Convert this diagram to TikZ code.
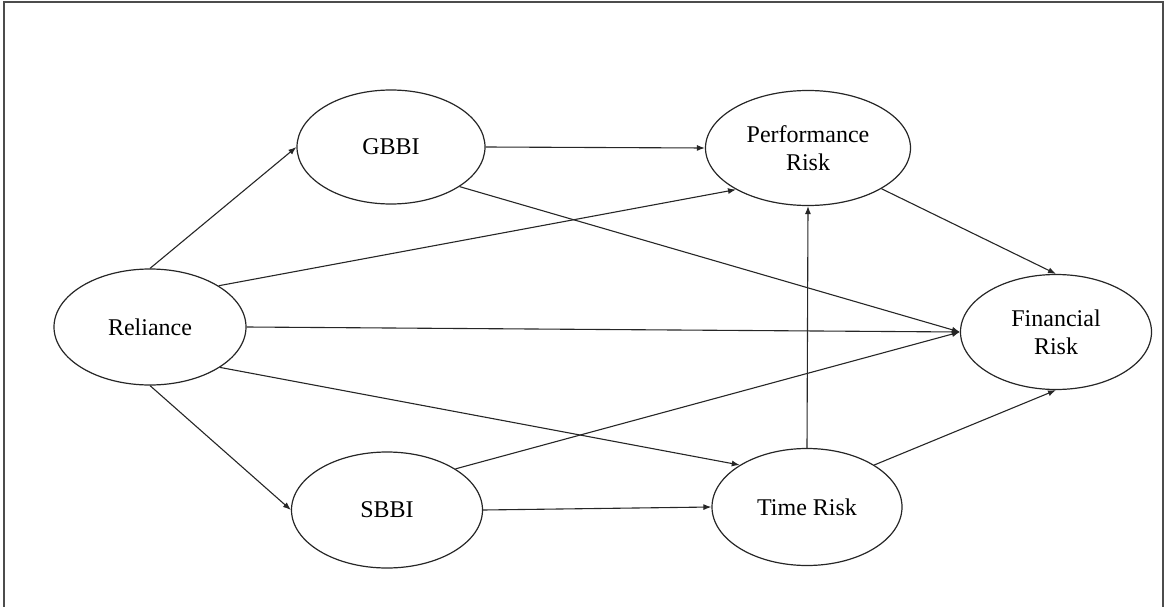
\documentclass[tikz,border=0pt]{standalone}
\usepackage{fontspec}
\setmainfont{Liberation Serif}
\usetikzlibrary{shapes.geometric,arrows.meta}
\begin{document}
\begin{tikzpicture}[x=1pt,y=-1pt,
  latent/.style={ellipse,draw=black!85,line width=1.2pt,inner sep=0pt,
    font=\fontsize{24}{28}\selectfont,align=center},
  conn/.style={draw=black!85,line width=1.1pt,-{Latex[length=8pt,width=6pt]}},
  frameline/.style={draw=black!70,line width=1.3pt}]
\useasboundingbox (0,0) rectangle (1164,607);
\draw[frameline] (4,607) -- (4,2) -- (1163,2) -- (1163,607);
\node[latent,minimum width=192pt,minimum height=116pt] (rel) at (150,327) {Reliance};
\node[latent,minimum width=188pt,minimum height=114pt] (gbbi) at (391,147) {GBBI};
\node[latent,minimum width=191pt,minimum height=116pt] (sbbi) at (387,510) {SBBI};
\node[latent,minimum width=205pt,minimum height=115pt] (perf) at (808,148) {Performance\\Risk};
\node[latent,minimum width=190pt,minimum height=117pt] (time) at (807,507) {Time Risk};
\node[latent,minimum width=191pt,minimum height=115pt] (fin) at (1056,332) {Financial\\Risk};
\draw[conn] (rel.north) -- (gbbi.west);
\draw[conn] (rel.31) -- (perf.210);
\draw[conn] (rel.east) -- (fin.west);
\draw[conn] (rel.-30) -- (time.148);
\draw[conn] (rel.south) -- (sbbi.west);
\draw[conn] (gbbi.east) -- (perf.west);
\draw[conn] (gbbi.-30) -- (fin.west);
\draw[conn] (sbbi.31) -- (fin.west);
\draw[conn] (sbbi.east) -- (time.west);
\draw[conn] (time.north) -- (perf.south);
\draw[conn] (time.32) -- (fin.south);
\draw[conn] (perf.-29) -- (fin.north);
\end{tikzpicture}
\end{document}
